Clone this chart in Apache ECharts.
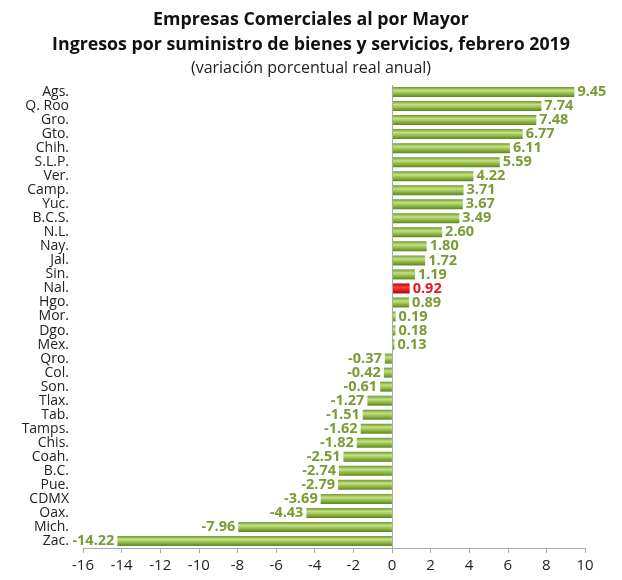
<!DOCTYPE html>
<html><head><meta charset="utf-8">
<script src="https://cdn.jsdelivr.net/npm/echarts@6/dist/echarts.min.js"></script>
<style>html,body{margin:0;padding:0;background:#fff}#c{width:622px;height:580px}</style>
</head><body><div id="c"></div>
<script>
const categories = ["Ags.","Q. Roo","Gro.","Gto.","Chih.","S.L.P.","Ver.","Camp.","Yuc.","B.C.S.","N.L.","Nay.","Jal.","Sin.","Nal.","Hgo.","Mor.","Dgo.","Mex.","Qro.","Col.","Son.","Tlax.","Tab.","Tamps.","Chis.","Coah.","B.C.","Pue.","CDMX","Oax.","Mich.","Zac."];
const values = [9.45,7.74,7.48,6.77,6.11,5.59,4.22,3.71,3.67,3.49,2.60,1.80,1.72,1.19,0.92,0.89,0.19,0.18,0.13,-0.37,-0.42,-0.61,-1.27,-1.51,-1.62,-1.82,-2.51,-2.74,-2.79,-3.69,-4.43,-7.96,-14.22];
const highlight = "Nal.";
const xTicks = {min:-16, max:10, interval:2};

const FONT = '"Open Sans", "Noto Sans", sans-serif';
const greenGrad = new echarts.graphic.LinearGradient(0,0,0,1,[
  {offset:0,color:'#6f9a2a'},{offset:0.35,color:'#c4e08a'},{offset:0.6,color:'#9cc24c'},{offset:1,color:'#5d8520'}]);
const redGrad = new echarts.graphic.LinearGradient(0,0,0,1,[
  {offset:0,color:'#c00000'},{offset:0.4,color:'#ff4040'},{offset:1,color:'#b00000'}]);

const data = values.map((v,i)=>{
  const isH = categories[i]===highlight;
  return {
    value: v,
    itemStyle: {color: isH ? redGrad : greenGrad},
    label: {
      position: v>=0 ? 'right' : 'left',
      color: isH ? '#e8141e' : '#7b9b36'
    }
  };
});

const chart = echarts.init(document.getElementById('c'));
chart.setOption({
  animation:false,
  title:[
    {text:'Empresas Comerciales al por Mayor', left:'center', top:6,
     textStyle:{fontFamily:FONT, fontSize:17.8, fontWeight:'bold', color:'#111'}},
    {text:'Ingresos por suministro de bienes y servicios, febrero 2019', left:'center', top:31,
     textStyle:{fontFamily:FONT, fontSize:17.8, fontWeight:'bold', color:'#111'}},
    {text:'(variación porcentual real anual)', left:'center', top:55,
     textStyle:{fontFamily:FONT, fontSize:16, fontWeight:'normal', color:'#222'}}
  ],
  grid:{left:83, right:37, top:85, bottom:32},
  xAxis:{
    type:'value', min:xTicks.min, max:xTicks.max, interval:xTicks.interval,
    splitLine:{show:false},
    axisLine:{show:true, lineStyle:{color:'#aaa'}},
    axisTick:{show:true, length:5, lineStyle:{color:'#aaa'}},
    axisLabel:{color:'#222', fontSize:15, margin:10, fontFamily:FONT}
  },
  yAxis:{
    type:'category', data:categories, inverse:true,
    axisLine:{show:false}, axisTick:{show:false},
    axisLabel:{color:'#222', fontSize:14, margin:14, fontFamily:FONT, interval:0, lineHeight:14}
  },
  series:[{
    type:'bar', data:data, barWidth:10,
    label:{show:true, fontSize:14.5, fontWeight:'bold', distance:3,
      fontFamily:FONT,
      formatter:p=>p.value.toFixed(2)},
    markLine:{silent:true, symbol:'none', label:{show:false},
      lineStyle:{color:'#aaa', type:'solid', width:1},
      data:[{xAxis:0}]}
  }]
});
</script></body></html>
